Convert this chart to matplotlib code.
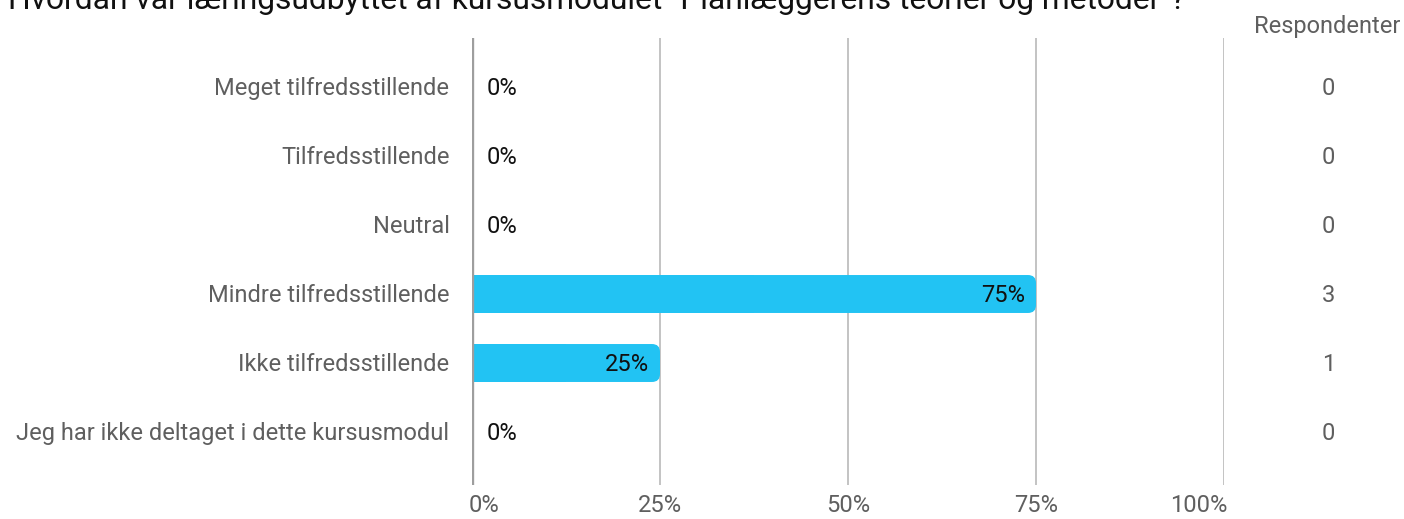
import matplotlib
matplotlib.use("Agg")
import matplotlib.pyplot as plt
from matplotlib.patches import FancyBboxPatch, Rectangle

# data
title = 'Hvordan var læringsudbyttet af kursusmodulet "Planlæggerens teorier og metoder"?'
categories = ["Meget tilfredsstillende", "Tilfredsstillende", "Neutral",
              "Mindre tilfredsstillende", "Ikke tilfredsstillende",
              "Jeg har ikke deltaget i dette kursusmodul"]
percent = [0, 0, 0, 75, 25, 0]
respondents = [0, 0, 0, 3, 1, 0]
xticks = [0, 25, 50, 75, 100]
xtick_labels = ["0%", "25%", "50%", "75%", "100%"]

W, H = 1404, 519
fig = plt.figure(figsize=(W / 100, H / 100), dpi=100)
ax = fig.add_axes([472 / W, (H - 485) / H, 752 / W, 447 / H])

bar_color = "#22c3f3"
gray = "#5f5f5f"
fnt = "Roboto"
fs = 17

ax.set_xlim(0, 100)
ax.set_ylim(5 + 53 / 69, -49 / 69)
for s in ax.spines.values():
    s.set_visible(False)
ax.set_xticks([])
ax.set_yticks([])

# gridlines
for t in xticks[1:]:
    ax.axvline(t, color="#b3b3b3", lw=1.1, zorder=0)
ax.axvline(0, color="#9e9e9e", lw=2.4, zorder=3)

bh = 0.55
xpp = 100 / 752
ypp = 1 / 69
r = 8 * xpp
dy = 0.025
for i, v in enumerate(percent):
    if v > 0:
        p = FancyBboxPatch((0, i - bh / 2), v, bh,
                           boxstyle="round,pad=0,rounding_size=%f" % r,
                           mutation_aspect=ypp / xpp,
                           fc=bar_color, ec="none", zorder=2)
        ax.add_patch(p)
        ax.add_patch(Rectangle((0, i - bh / 2), v / 2, bh, fc=bar_color,
                               ec="none", zorder=2))
        ax.text(v - 1.5, i + dy, "%d%%" % v, ha="right", va="center",
                fontsize=fs, family=fnt, color="#111111", zorder=4)
    else:
        ax.text(1.9, i + dy, "%d%%" % v, ha="left", va="center",
                fontsize=fs, family=fnt, color="#111111", zorder=4)

    # category label
    ax.text(-3.0, i + dy, categories[i], ha="right", va="center",
            fontsize=fs, family=fnt, color=gray)
    # respondents
    ax.text(113.9, i + dy, str(respondents[i]), ha="center", va="center",
            fontsize=fs, family=fnt, color=gray)

# x tick labels
aligns = ["left", "center", "center", "center", "right"]
offs = [-0.5, 0, 0, 0, 0.5]
for t, lab, a, o in zip(xticks, xtick_labels, aligns, offs):
    ax.text(t + o, 5.768 + 21 / 69, lab, ha=a, va="center",
            fontsize=fs, family=fnt, color=gray, clip_on=False)

fig.text(1400 / W, 1 - 26 / H, "Respondenter", ha="right", va="center",
         fontsize=fs, family=fnt, color=gray)

fig.text(8 / W, 1 - 9 / H, title, ha="left", va="baseline",
         fontsize=22.9, family=fnt, color="#111111")

fig.savefig("out.png", dpi=100)
